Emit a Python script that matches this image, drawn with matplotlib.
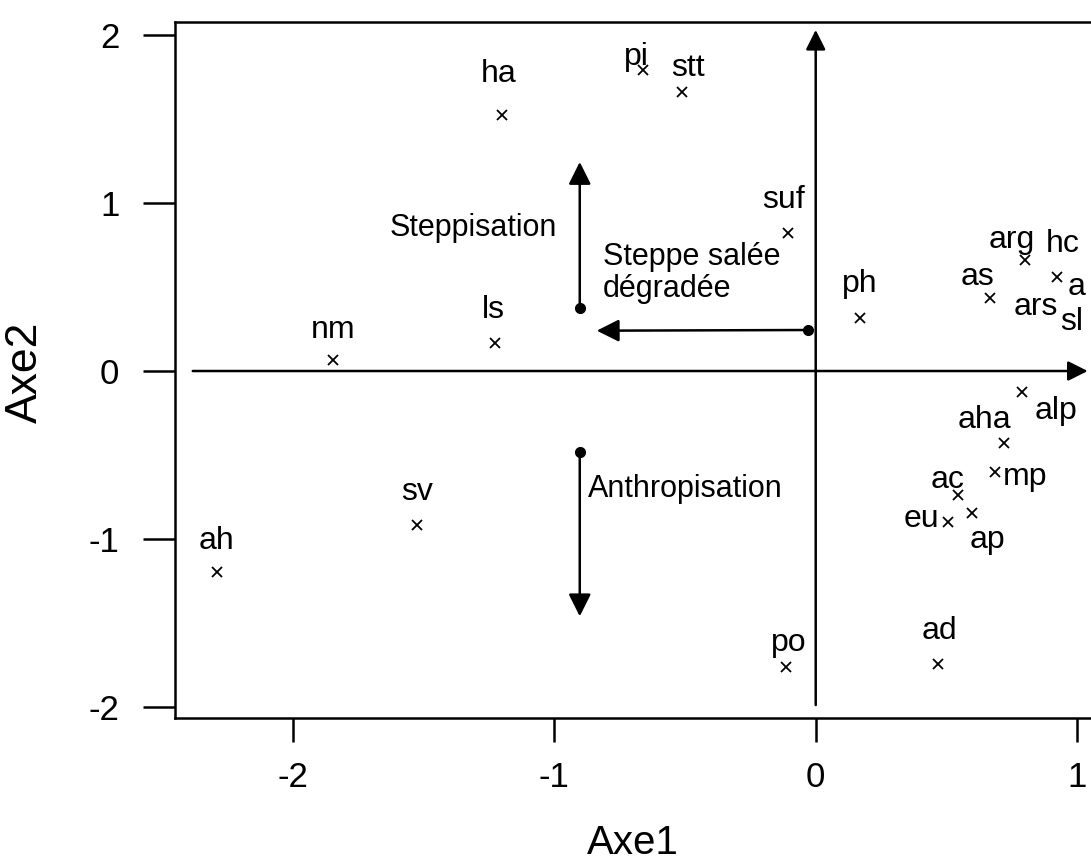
import matplotlib
matplotlib.use("Agg")
import matplotlib.pyplot as plt

plt.rcParams['font.family'] = ['Liberation Sans', 'DejaVu Sans']
plt.rcParams['axes.unicode_minus'] = False

# species scores (axe1, axe2)
species = ["ha", "pi", "stt", "suf", "ls", "nm", "sv", "ah", "po", "ph",
           "as", "arg", "hc", "alp", "aha", "mp", "ac", "eu", "ap", "ad"]
axe1 = [-1.202, -0.662, -0.513, -0.107, -1.228, -1.848, -1.527, -2.292, -0.115, 0.168,
        0.666, 0.800, 0.922, 0.788, 0.719, 0.685, 0.543, 0.505, 0.597, 0.467]
axe2 = [1.524, 1.792, 1.661, 0.821, 0.167, 0.065, -0.917, -1.196, -1.762, 0.315,
        0.435, 0.661, 0.560, -0.125, -0.429, -0.601, -0.738, -0.899, -0.845, -1.744]

# labels whose points fall at the cut right edge
edge_names = ["a", "ars", "sl"]
edge_x = [0.964, 0.758, 0.935]
edge_y = [0.50, 0.38, 0.29]

# gradient arrows: (start, end, text)
grad_names = ["Steppisation", "Steppe salée\ndégradée", "Anthropisation"]
grad_start = [(-0.903, 0.375), (-0.03, 0.244), (-0.903, -0.48)]
grad_end = [(-0.903, 1.244), (-0.838, 0.24), (-0.903, -1.46)]
grad_text_xy = [(-0.991, 0.851), (-0.815, 0.585), (-0.873, -0.70)]

xticks = [-2, -1, 0, 1]
yticks = [-2, -1, 0, 1, 2]

# label offsets in pixels (dx, dy, ha)
offsets = {
    "ha": (-3, 41, "center"), "pi": (-6, 13, "center"), "stt": (6, 24, "center"),
    "suf": (-4, 33, "center"), "ls": (-1, 33, "center"), "nm": (0, 30, "center"),
    "sv": (0, 33, "center"), "ah": (0, 31, "center"), "po": (3, 24, "center"),
    "ph": (0, 34, "center"), "as": (-12, 21, "center"), "arg": (-13, 20, "center"),
    "hc": (6, 33, "center"), "alp": (13, -19, "left"), "aha": (-19, 23, "center"),
    "mp": (8, -5, "left"), "ac": (-10, 15, "center"), "eu": (-8, 3, "right"),
    "ap": (16, -27, "center"), "ad": (2, 33, "center"),
}

fig = plt.figure(figsize=(10.91, 8.6), dpi=100)
ax = fig.add_axes([175 / 1091, 142 / 860, 1.0, 696 / 860])
ax.set_xlim(-2.452, -2.452 + 1091 / 261.3)
ax.set_ylim(-2.065, 2.077)

lw = 1.8
for s in ax.spines.values():
    s.set_linewidth(lw)

ax.set_xticks(xticks)
ax.set_yticks(yticks)
ax.tick_params(axis='y', length=23, width=lw, pad=17, labelsize=25)
ax.tick_params(axis='x', length=17, width=lw, pad=14, labelsize=25)
ax.set_xlabel("Axe1", fontsize=29)
ax.set_ylabel("Axe2", fontsize=32)
ax.xaxis.set_label_coords(0.42, -0.152)
ax.yaxis.set_label_coords(-0.118, 0.497)

# main axes as arrows
main_arrow = dict(arrowstyle='-|>', lw=lw, color='black', mutation_scale=30, shrinkA=0, shrinkB=0)
ax.annotate("", xy=(1.041, 0), xytext=(-2.384, 0), arrowprops=main_arrow, annotation_clip=False)
ax.annotate("", xy=(0, 2.03), xytext=(0, -1.988), arrowprops=main_arrow)

# species points
ax.plot(axe1, axe2, 'x', color='black', ms=7, mew=1.3)
for name, x, y in zip(species, axe1, axe2):
    dx, dy, ha = offsets[name]
    ax.annotate(name, (x, y), xytext=(dx, dy), textcoords='offset pixels',
                ha=ha, va='center', fontsize=23)
for name, x, y in zip(edge_names, edge_x, edge_y):
    ax.text(x, y, name, ha='left', va='center', fontsize=23)

# gradient arrows
grad_arrow = dict(arrowstyle='-|>', lw=lw, color='black', mutation_scale=34, shrinkA=0, shrinkB=0)
for name, st, en, txy, ha in zip(grad_names, grad_start, grad_end, grad_text_xy,
                                 ["right", "left", "left"]):
    ax.annotate("", xy=en, xytext=st, arrowprops=grad_arrow)
    ax.plot(*st, 'o', color='black', ms=7)
    ax.text(*txy, name, ha=ha, va='center', fontsize=22, linespacing=1.1)

fig.savefig("out.png", dpi=100)
